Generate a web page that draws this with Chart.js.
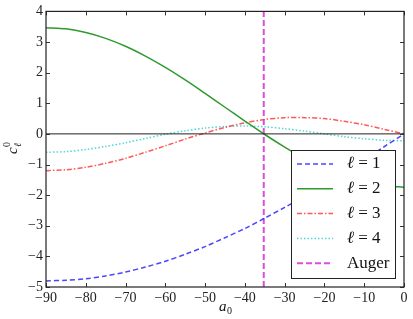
<!DOCTYPE html>
<html>
<head>
<meta charset="utf-8">
<script src="https://cdn.jsdelivr.net/npm/chart.js@4/dist/chart.umd.min.js"></script>
<style>
  html, body { margin: 0; padding: 0; background: #fff; }
  #wrap { width: 413px; height: 319px; }
</style>
</head>
<body>
<div id="wrap"><canvas id="c"></canvas></div>
<script>
// angles a0 (degrees) and c_l^0 values
const angles = [-90, -85, -80, -75, -70, -65, -60, -55, -50, -45, -40, -35, -30, -25, -20, -15, -10, -5, 0];
const l1 = [-4.80, -4.78, -4.73, -4.64, -4.51, -4.35, -4.16, -3.93, -3.68, -3.39, -3.09, -2.75, -2.40, -2.03, -1.64, -1.24, -0.83, -0.42, 0];
const l2 = [3.47, 3.43, 3.31, 3.12, 2.86, 2.54, 2.17, 1.76, 1.32, 0.87, 0.42, -0.02, -0.43, -0.81, -1.13, -1.39, -1.58, -1.70, -1.74];
const l3 = [-1.20, -1.17, -1.09, -0.96, -0.80, -0.60, -0.39, -0.17, 0.03, 0.21, 0.36, 0.47, 0.53, 0.53, 0.50, 0.41, 0.30, 0.15, 0];
const l4 = [-0.60, -0.58, -0.51, -0.41, -0.29, -0.15, -0.01, 0.10, 0.19, 0.24, 0.26, 0.23, 0.17, 0.09, 0.00, -0.09, -0.16, -0.21, -0.225];
const augerAngle = -35.26;
const xTicks = [-90, -80, -70, -60, -50, -40, -30, -20, -10, 0];
const yTicks = [-5, -4, -3, -2, -1, 0, 1, 2, 3, 4];

const legendItems = [
  { sym: true, n: '1', color: 'rgba(40,40,255,0.85)', dash: [5, 3], width: 1.5 },
  { sym: true, n: '2', color: '#2e9a2e', dash: [], width: 1.5 },
  { sym: true, n: '3', color: 'rgba(255,60,60,0.85)', dash: [5, 2, 1.5, 2], width: 1.5 },
  { sym: true, n: '4', color: 'rgba(60,210,210,0.9)', dash: [1.5, 2], width: 1.5 },
  { sym: false, label: 'Auger', color: '#dd4ddd', dash: [6, 3], width: 2 }
];

const SERIF = "'Liberation Serif', 'DejaVu Serif', serif";
Chart.defaults.font.family = SERIF;
const pts = vals => angles.map((a, i) => ({ x: a, y: vals[i] }));

const lineSet = (vals, item) => ({
  data: pts(vals),
  borderColor: item.color,
  borderDash: item.dash,
  borderWidth: item.width,
  pointRadius: 0,
  tension: 0.3,
  fill: false
});

const framePlugin = {
  id: 'frame',
  afterDraw(chart) {
    const { ctx, chartArea: a, scales } = chart;
    ctx.save();
    // inward ticks
    ctx.strokeStyle = '#333';
    ctx.lineWidth = 1;
    ctx.setLineDash([]);
    xTicks.forEach(v => {
      const px = Math.round(scales.x.getPixelForValue(v)) + 0.5;
      ctx.beginPath();
      ctx.moveTo(px, a.bottom); ctx.lineTo(px, a.bottom - 4);
      ctx.moveTo(px, a.top); ctx.lineTo(px, a.top + 4);
      ctx.stroke();
    });
    yTicks.forEach(v => {
      const py = Math.round(scales.y.getPixelForValue(v)) + 0.5;
      ctx.beginPath();
      ctx.moveTo(a.left, py); ctx.lineTo(a.left + 4, py);
      ctx.moveTo(a.right, py); ctx.lineTo(a.right - 4, py);
      ctx.stroke();
    });
    // frame
    ctx.strokeStyle = '#222';
    ctx.lineWidth = 1.2;
    ctx.strokeRect(a.left, a.top, a.right - a.left, a.bottom - a.top);

    // legend box
    const bx = 291, by = 150, bw = 104, bh = 128;
    ctx.fillStyle = '#fff';
    ctx.fillRect(bx, by, bw, bh);
    ctx.strokeStyle = '#222';
    ctx.lineWidth = 1;
    ctx.strokeRect(bx + 0.5, by + 0.5, bw, bh);
    legendItems.forEach((it, i) => {
      const y = 164 + i * 24.8;
      ctx.beginPath();
      ctx.strokeStyle = it.color;
      ctx.lineWidth = it.width;
      ctx.setLineDash(it.dash);
      ctx.moveTo(297, y); ctx.lineTo(333, y);
      ctx.stroke();
      ctx.setLineDash([]);
      ctx.fillStyle = '#111';
      ctx.textBaseline = 'middle';
      ctx.textAlign = 'left';
      if (it.sym) {
        ctx.font = 'italic 17px ' + SERIF;
        ctx.fillText('ℓ', 347, y);
        ctx.font = '17px ' + SERIF;
        ctx.fillText(' = ' + it.n, 354, y);
      } else {
        ctx.font = '17px ' + SERIF;
        ctx.fillText(it.label, 347, y);
      }
    });

    // axis titles
    ctx.fillStyle = '#111';
    ctx.textBaseline = 'alphabetic';
    ctx.textAlign = 'left';
    ctx.font = 'italic 15px ' + SERIF;
    ctx.fillText('a', 219, 311);
    ctx.font = '10px ' + SERIF;
    ctx.fillText('0', 227, 314);

    ctx.translate(17, 154);
    ctx.rotate(-Math.PI / 2);
    ctx.font = 'italic 15px ' + SERIF;
    ctx.fillText('c', 0, 0);
    ctx.font = 'italic 10px ' + SERIF;
    ctx.fillText('ℓ', 7, 4);
    ctx.font = '10px ' + SERIF;
    ctx.fillText('0', 7, -7);
    ctx.restore();
  }
};

new Chart(document.getElementById('c'), {
  type: 'line',
  data: {
    datasets: [
      { data: [{ x: -90, y: 0 }, { x: 0, y: 0 }], borderColor: '#222', borderWidth: 1, pointRadius: 0 },
      lineSet(l1, legendItems[0]),
      lineSet(l2, legendItems[1]),
      lineSet(l3, legendItems[2]),
      lineSet(l4, legendItems[3]),
      {
        data: [{ x: augerAngle, y: -5 }, { x: augerAngle, y: 4 }],
        borderColor: legendItems[4].color,
        borderDash: legendItems[4].dash,
        borderWidth: 2,
        pointRadius: 0
      }
    ]
  },
  options: {
    responsive: true,
    maintainAspectRatio: false,
    animation: false,
    layout: { padding: { top: 10, right: 9, left: 0, bottom: 0 } },
    plugins: { legend: { display: false }, tooltip: { enabled: false } },
    scales: {
      x: {
        type: 'linear', min: -90, max: 0,
        grid: { display: false, drawTicks: false },
        border: { display: false },
        ticks: {
          stepSize: 10, padding: 3, color: '#222', maxRotation: 0,
          font: { family: SERIF, size: 14 },
          callback: v => String(v).replace('-', '−')
        },
        afterFit: s => { s.height = 32; }
      },
      y: {
        min: -5, max: 4,
        grid: { display: false, drawTicks: false },
        border: { display: false },
        ticks: {
          stepSize: 1, padding: 3, color: '#222',
          font: { family: SERIF, size: 14 },
          callback: v => String(v).replace('-', '−')
        },
        afterFit: s => { s.width = 46; }
      }
    }
  },
  plugins: [framePlugin]
});
</script>
</body>
</html>
